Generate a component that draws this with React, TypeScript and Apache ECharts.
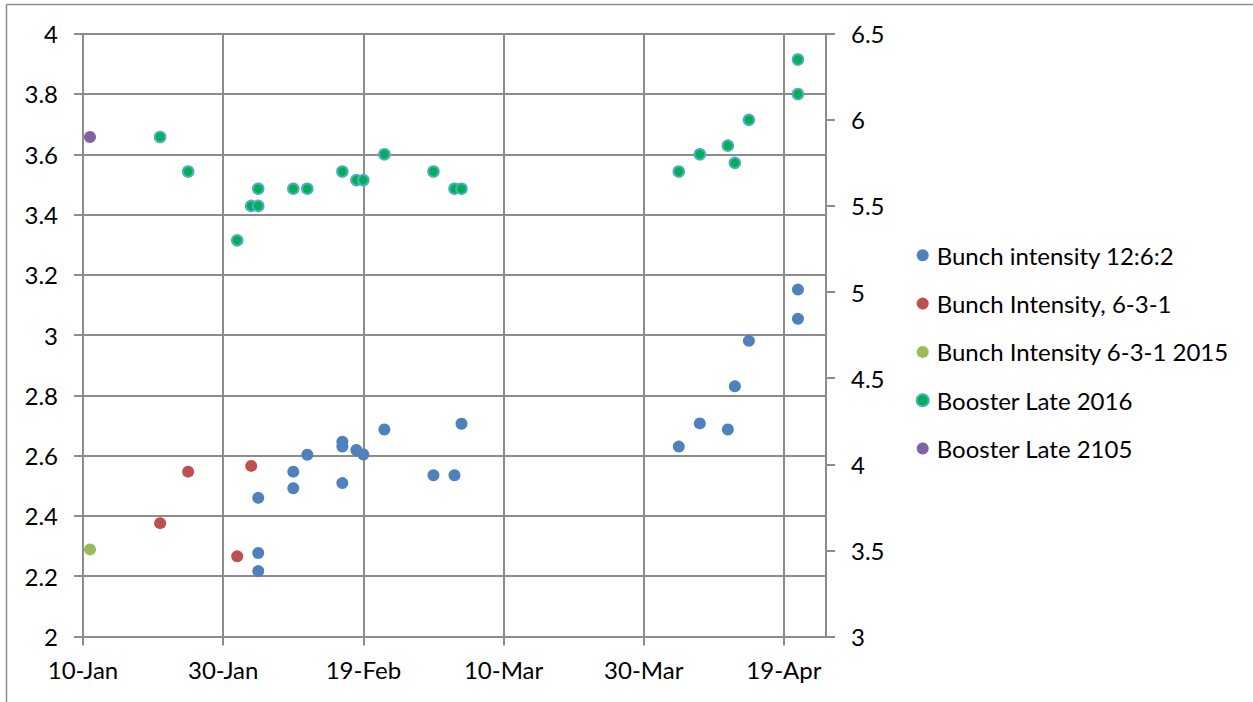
import React, { useEffect, useRef } from 'react';
import * as echarts from 'echarts';

const DAY = 86400000;
const toTime = (s: string) => Date.parse(s + 'T00:00:00Z');
const MONTHS = ['Jan', 'Feb', 'Mar', 'Apr', 'May', 'Jun', 'Jul', 'Aug', 'Sep', 'Oct', 'Nov', 'Dec'];

// x axis range and labelled dates
const xMinDate = '2016-01-10';
const xMaxDate = '2016-04-25';
const xTickDates = ['2016-01-10', '2016-01-30', '2016-02-19', '2016-03-10', '2016-03-30', '2016-04-19'];

// Bunch intensity 12:6:2 (left axis)
const bunch1262Dates = [
  '2016-02-04', '2016-02-04', '2016-02-04', '2016-02-09', '2016-02-09', '2016-02-11',
  '2016-02-16', '2016-02-16', '2016-02-16', '2016-02-18', '2016-02-19', '2016-02-22',
  '2016-02-29', '2016-03-03', '2016-03-04', '2016-04-04', '2016-04-07', '2016-04-11',
  '2016-04-12', '2016-04-14', '2016-04-21', '2016-04-21',
];
const bunch1262Values = [
  2.46, 2.277, 2.217, 2.547, 2.492, 2.603,
  2.646, 2.63, 2.509, 2.619, 2.604, 2.687,
  2.535, 2.535, 2.706, 2.63, 2.707, 2.687,
  2.83, 2.981, 3.151, 3.054,
];

// Bunch Intensity, 6-3-1 (left axis)
const bunch631Dates = ['2016-01-21', '2016-01-25', '2016-02-01', '2016-02-03'];
const bunch631Values = [2.376, 2.547, 2.266, 2.566];

// Bunch Intensity 6-3-1 2015 (left axis)
const bunch631_2015Dates = ['2016-01-11'];
const bunch631_2015Values = [2.289];

// Booster Late 2016 (right axis)
const booster2016Dates = [
  '2016-01-21', '2016-01-25', '2016-02-01', '2016-02-03', '2016-02-04', '2016-02-04',
  '2016-02-09', '2016-02-11', '2016-02-16', '2016-02-18', '2016-02-19', '2016-02-22',
  '2016-02-29', '2016-03-03', '2016-03-04', '2016-04-04', '2016-04-07', '2016-04-11',
  '2016-04-12', '2016-04-14', '2016-04-21', '2016-04-21',
];
const booster2016Values = [
  5.9, 5.7, 5.3, 5.5, 5.5, 5.6,
  5.6, 5.6, 5.7, 5.65, 5.65, 5.8,
  5.7, 5.6, 5.6, 5.7, 5.8, 5.85,
  5.75, 6.0, 6.35, 6.15,
];

// Booster Late 2105 (right axis)
const booster2105Dates = ['2016-01-11'];
const booster2105Values = [5.9];

const pairs = (dates: string[], values: number[]) => dates.map((d, i) => [toTime(d), values[i]]);

const FONT = 'Lato, "Liberation Sans", sans-serif';
const GRID = '#8c8c8c';

const fmtDate = (v: number) => {
  const dt = new Date(v);
  return `${dt.getUTCDate()}-${MONTHS[dt.getUTCMonth()]}`;
};

export default function App() {
  const ref = useRef<HTMLDivElement>(null);

  useEffect(() => {
    if (!ref.current) return;
    const chart = echarts.init(ref.current, undefined, { renderer: 'svg' });
    const tickTimes = xTickDates.map(toTime);
    const labelStyle = { color: '#000', fontFamily: FONT, fontSize: 24 };

    chart.setOption({
      animation: false,
      backgroundColor: '#fff',
      grid: { left: 83, top: 33.7, right: 427, bottom: 65.5, containLabel: false },
      xAxis: {
        type: 'value',
        min: toTime(xMinDate),
        max: toTime(xMaxDate),
        interval: 20 * DAY,
        axisLine: { show: true, onZero: false, lineStyle: { color: GRID, width: 2 } },
        axisTick: { show: true, length: 9, customValues: tickTimes, lineStyle: { color: GRID, width: 2 } },
        axisLabel: { ...labelStyle, margin: 21, customValues: tickTimes, formatter: fmtDate },
        splitLine: { show: true, lineStyle: { color: GRID, width: 2 } },
      },
      yAxis: [
        {
          type: 'value',
          position: 'left',
          min: 2,
          max: 4,
          interval: 0.2,
          axisLine: { show: true, lineStyle: { color: GRID, width: 2 } },
          axisTick: { show: true, length: 9, lineStyle: { color: GRID, width: 2 } },
          axisLabel: { ...labelStyle, margin: 25 },
          splitLine: { show: true, lineStyle: { color: GRID, width: 2 } },
        },
        {
          type: 'value',
          position: 'right',
          min: 3,
          max: 6.5,
          interval: 0.5,
          axisLine: { show: true, lineStyle: { color: GRID, width: 2 } },
          axisTick: { show: true, length: 9, lineStyle: { color: GRID, width: 2 } },
          axisLabel: { ...labelStyle, margin: 25 },
          splitLine: { show: false },
        },
      ],
      legend: {
        orient: 'vertical',
        left: 910.7,
        top: 238.3,
        itemWidth: 12,
        itemHeight: 12,
        itemGap: 24.3,
        icon: 'circle',
        textStyle: { ...labelStyle, lineHeight: 24, padding: [0, 0, 0, 3] },
      },
      graphic: [
        { type: 'line', shape: { x1: 6.5, y1: 4.5, x2: 1253, y2: 4.5 }, style: { stroke: GRID, lineWidth: 1.5 } },
        { type: 'line', shape: { x1: 6.5, y1: 4.5, x2: 6.5, y2: 702 }, style: { stroke: GRID, lineWidth: 1.5 } },
      ],
      series: [
        {
          name: 'Bunch intensity 12:6:2',
          type: 'scatter',
          yAxisIndex: 0,
          symbolSize: 12,
          itemStyle: { color: '#4f81bd', opacity: 1 },
          data: pairs(bunch1262Dates, bunch1262Values),
        },
        {
          name: 'Bunch Intensity, 6-3-1',
          type: 'scatter',
          yAxisIndex: 0,
          symbolSize: 12,
          itemStyle: { color: '#c0504d', opacity: 1 },
          data: pairs(bunch631Dates, bunch631Values),
        },
        {
          name: 'Bunch Intensity 6-3-1 2015',
          type: 'scatter',
          yAxisIndex: 0,
          symbolSize: 12,
          itemStyle: { color: '#9bbb59', opacity: 1 },
          data: pairs(bunch631_2015Dates, bunch631_2015Values),
        },
        {
          name: 'Booster Late 2016',
          type: 'scatter',
          yAxisIndex: 1,
          symbolSize: 10.5,
          itemStyle: { color: '#00b050', borderColor: '#4bacc6', borderWidth: 2, opacity: 1 },
          data: pairs(booster2016Dates, booster2016Values),
        },
        {
          name: 'Booster Late 2105',
          type: 'scatter',
          yAxisIndex: 1,
          symbolSize: 12,
          itemStyle: { color: '#8064a2', opacity: 1 },
          data: pairs(booster2105Dates, booster2105Values),
        },
      ],
    });

    return () => chart.dispose();
  }, []);

  return (
    <div
      ref={ref}
      style={{ position: 'fixed', left: 0, top: 0, width: 1253, height: 702, background: '#fff' }}
    />
  );
}
